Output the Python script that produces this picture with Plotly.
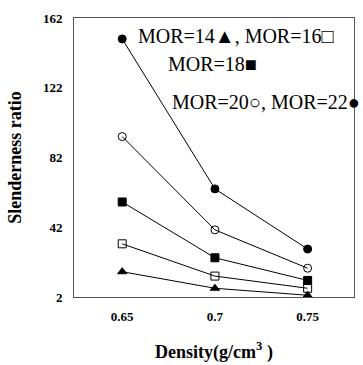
import plotly.graph_objects as go

density = [0.65, 0.7, 0.75]
mor14 = [16.5, 7, 3]
mor16 = [32.5, 14, 7]
mor18 = [56.5, 24.5, 11.5]
mor20 = [94, 40.5, 18.5]
mor22 = [150, 64, 29.5]
y_ticks = [2, 42, 82, 122, 162]
x_ticks = [0.65, 0.7, 0.75]
x_tick_text = ["0.65", "0.7", "0.75"]

series = [
    ("MOR=14", mor14, "triangle-up"),
    ("MOR=16", mor16, "square-open"),
    ("MOR=18", mor18, "square"),
    ("MOR=20", mor20, "circle-open"),
    ("MOR=22", mor22, "circle"),
]

fig = go.Figure()
for name, vals, sym in series:
    fig.add_trace(go.Scatter(
        x=density, y=vals, mode="lines+markers", name=name,
        line=dict(color="black", width=1),
        marker=dict(symbol=sym, size=8, color="black",
                    line=dict(color="black", width=1)),
        cliponaxis=False,
    ))

serif = "Liberation Serif, Times New Roman, serif"
ann_font = dict(family=serif, size=20, color="black")
fig.add_annotation(x=0.222, y=0.937, xref="paper", yref="paper", xanchor="left",
                   yanchor="middle", showarrow=False, text="MOR=14\u25b2, MOR=16\u25a1",
                   font=ann_font)
fig.add_annotation(x=0.329, y=0.835, xref="paper", yref="paper", xanchor="left",
                   yanchor="middle", showarrow=False, text="MOR=18\u25a0",
                   font=ann_font)
fig.add_annotation(x=1.028, y=0.700, xref="paper", yref="paper", xanchor="right",
                   yanchor="middle", showarrow=False, text="MOR=20\u25cb, MOR=22\u25cf",
                   font=ann_font)

fig.update_layout(
    width=363, height=365,
    margin=dict(l=74, r=9, t=18, b=68, autoexpand=False),
    paper_bgcolor="white", plot_bgcolor="white",
    showlegend=False,
    font=dict(family=serif, color="black"),
    xaxis=dict(
        range=[0.624, 0.775], tickvals=x_ticks, ticktext=x_tick_text,
        showgrid=False, zeroline=False, showline=True, mirror=True,
        linecolor="#555555", linewidth=1, ticks="", automargin=False,
        ticklabelstandoff=7,
        tickfont=dict(family=serif, size=13, color="black", weight="bold"),
        title=dict(text="Density(g/cm<sup>3</sup> )", standoff=22,
                   font=dict(family=serif, size=18, color="black", weight="bold")),
    ),
    yaxis=dict(
        range=[2, 162], tickvals=y_ticks,
        showgrid=False, zeroline=False, showline=True, mirror=True,
        linecolor="#555555", linewidth=1, ticks="", automargin=False,
        ticklabelstandoff=8,
        tickfont=dict(family=serif, size=13, color="black", weight="bold"),
        title=dict(text="Slenderness ratio", standoff=16,
                   font=dict(family=serif, size=18, color="black", weight="bold")),
    ),
)

fig.write_html("out.html", config={"displayModeBar": False},
               post_script="document.body.style.margin='0';document.body.style.padding='0';")
